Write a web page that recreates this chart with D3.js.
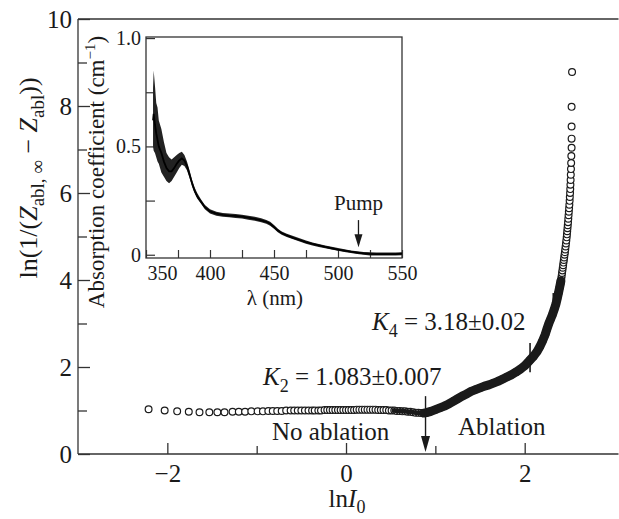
<!DOCTYPE html>
<html>
<head>
<meta charset="utf-8">
<script src="https://cdn.jsdelivr.net/npm/d3@7"></script>
<style>
  body { margin: 0; background: #fff; }
  svg, svg text { font-family: "Liberation Serif", "Times New Roman", serif; }
</style>
</head>
<body>
<svg id="chart" width="619" height="519"></svg>
<script>
// Main curve: ln I0 vs ln(1/(Zabl,inf - Zabl))
const lnI = [
  -2.21, -2.03, -1.89, -1.76, -1.64, -1.53, -1.44, -1.36, -1.27, -1.20, -1.13, -1.06, -0.99, -0.93,
  -0.87, -0.82, -0.77, -0.72, -0.67, -0.62, -0.58, -0.54, -0.50, -0.46, -0.42, -0.38, -0.35, -0.31,
  -0.28, -0.24, -0.21, -0.18, -0.15, -0.12, -0.09, -0.06, -0.03, 0.00, 0.03, 0.06, 0.09, 0.12,
  0.15, 0.18, 0.21, 0.24, 0.27, 0.30, 0.33, 0.36, 0.39, 0.42, 0.45, 0.48, 0.51, 0.54, 0.57, 0.60,
  0.63, 0.66, 0.69, 0.72, 0.75, 0.78, 0.81, 0.84, 0.87,
  0.90, 0.95, 1.00, 1.05, 1.10, 1.15, 1.20, 1.25, 1.30, 1.35, 1.40, 1.45, 1.50, 1.55, 1.60, 1.65,
  1.70, 1.75, 1.80, 1.85, 1.90, 1.95, 2.00, 2.03, 2.06, 2.10, 2.14, 2.17, 2.20, 2.23, 2.25, 2.27,
  2.29, 2.31, 2.33, 2.35, 2.365, 2.378, 2.39, 2.40, 2.405, 2.410, 2.414, 2.418, 2.422, 2.426, 2.430,
  2.434, 2.438, 2.442, 2.446, 2.450, 2.454, 2.458, 2.462, 2.466, 2.470, 2.473, 2.476, 2.479, 2.482,
  2.485, 2.488, 2.491, 2.494, 2.497, 2.500, 2.503, 2.505, 2.508, 2.510, 2.512, 2.514, 2.516, 2.518,
  2.520, 2.522, 2.525, 2.525, 2.525, 2.525, 2.530
];
const lnZ = [
  1.03, 1.00, 0.98, 0.97, 0.96, 0.96, 0.96, 0.96, 0.97, 0.97, 0.97, 0.98, 0.98, 0.98,
  0.99, 0.99, 0.99, 0.99, 1.00, 1.00, 1.00, 1.00, 1.00, 1.00, 1.00, 1.00, 1.00, 1.00,
  1.00, 1.01, 1.01, 1.01, 1.01, 1.01, 1.01, 1.01, 1.01, 1.01, 1.01, 1.01, 1.01, 1.02,
  1.02, 1.02, 1.02, 1.02, 1.02, 1.02, 1.02, 1.01, 1.01, 1.01, 1.01, 1.00, 1.00, 1.00, 0.99, 0.99,
  0.98, 0.98, 0.97, 0.97, 0.96, 0.95, 0.95, 0.94, 0.94,
  0.95, 0.98, 1.02, 1.06, 1.10, 1.15, 1.21, 1.27, 1.33, 1.38, 1.44, 1.48, 1.52, 1.56, 1.59, 1.63,
  1.67, 1.72, 1.77, 1.82, 1.88, 1.95, 2.03, 2.09, 2.16, 2.25, 2.36, 2.47, 2.60, 2.75, 2.88, 3.00,
  3.10, 3.20, 3.32, 3.45, 3.58, 3.70, 3.82, 3.92, 3.98, 4.04, 4.10, 4.16, 4.22, 4.28, 4.34,
  4.40, 4.46, 4.52, 4.58, 4.64, 4.70, 4.77, 4.84, 4.91, 4.98, 5.05, 5.12, 5.19, 5.26,
  5.33, 5.41, 5.49, 5.57, 5.65, 5.73, 5.82, 5.91, 6.00, 6.09, 6.19, 6.30, 6.42, 6.55,
  6.69, 6.85, 7.04, 7.25, 7.53, 7.98, 8.78
];

// Short vertical marks on the curve (fit range ends)
const markX = [2.06, 2.32];
const markLo = [1.88, 3.15];
const markHi = [2.55, 3.70];

// Ablation threshold arrow
const threshX = 0.89;
const threshTop = 1.33;

// Main axis ticks
const xMajor = [-2, 0, 2];
const xMinor = [-1, 1];
const yMajor = [0, 2, 4, 6, 8, 10];
const yMinor = [1, 3, 5, 7, 9];

// Inset: absorption spectrum (mean and noise envelope)
const lambda = [355.5, 356, 357, 358, 359, 360, 362, 364, 366, 368, 370, 372, 374, 376, 378, 380,
  382, 384, 386, 388, 390, 393, 396, 400, 405, 410, 415, 420, 425, 430, 435, 440, 444, 447, 450,
  453, 456, 460, 465, 470, 475, 480, 485, 490, 495, 500, 505, 510, 515, 520, 525, 530, 535, 540,
  545, 550];
const absMid = [0.62, 0.65, 0.60, 0.56, 0.53, 0.50, 0.47, 0.43, 0.40, 0.385, 0.385, 0.40, 0.42,
  0.435, 0.445, 0.435, 0.41, 0.37, 0.33, 0.295, 0.27, 0.245, 0.22, 0.20, 0.19, 0.184, 0.181, 0.179,
  0.176, 0.171, 0.166, 0.159, 0.152, 0.143, 0.128, 0.112, 0.10, 0.089, 0.078, 0.068, 0.058, 0.05,
  0.043, 0.036, 0.03, 0.024, 0.019, 0.014, 0.01, 0.006, 0.004, 0.003, 0.003, 0.003, 0.003, 0.005];
const absHi = [0.77, 0.85, 0.78, 0.70, 0.68, 0.62, 0.58, 0.52, 0.47, 0.45, 0.44, 0.45, 0.46,
  0.47, 0.475, 0.46, 0.43, 0.39, 0.345, 0.31, 0.285, 0.255, 0.23, 0.21, 0.198, 0.193, 0.19, 0.188,
  0.185, 0.18, 0.175, 0.168, 0.16, 0.152, 0.137, 0.12, 0.107, 0.097, 0.086, 0.076, 0.066, 0.057,
  0.05, 0.043, 0.037, 0.031, 0.025, 0.02, 0.016, 0.013, 0.011, 0.01, 0.01, 0.01, 0.01, 0.012];
const absLo = [0.50, 0.48, 0.47, 0.45, 0.43, 0.42, 0.38, 0.36, 0.34, 0.33, 0.34, 0.36, 0.38,
  0.40, 0.415, 0.41, 0.39, 0.355, 0.315, 0.285, 0.26, 0.235, 0.21, 0.19, 0.18, 0.175, 0.173, 0.17,
  0.167, 0.162, 0.157, 0.15, 0.143, 0.134, 0.12, 0.104, 0.092, 0.082, 0.071, 0.061, 0.051, 0.043,
  0.036, 0.03, 0.024, 0.018, 0.013, 0.008, 0.004, 0.0, -0.003, -0.004, -0.004, -0.004, -0.003, -0.002];
const pumpX = 516;
const insetXTicks = [350, 375, 400, 425, 450, 475, 500, 525, 550];
const insetXLabels = [350, 400, 450, 500, 550];
const insetYTicks = [0, 0.25, 0.5, 0.75, 1.0];
const insetYLabels = [0, 0.5, 1.0];

const svg = d3.select("#chart");
const ink = "#1a1a1a";

// Main scales
const x = d3.scaleLinear().domain([-3, 3.05]).range([78, 618.5]);
const y = d3.scaleLinear().domain([0, 10]).range([454, 19]);

// Frame: bottom, left, top
const frame = svg.append("g").attr("stroke", "#333").attr("stroke-width", 1.3);
frame.append("line").attr("x1", x(-3)).attr("x2", x(3.05)).attr("y1", y(0)).attr("y2", y(0));
frame.append("line").attr("x1", x(-3)).attr("x2", x(-3)).attr("y1", y(0)).attr("y2", y(10));
frame.append("line").attr("x1", x(-3)).attr("x2", x(3.05)).attr("y1", y(10)).attr("y2", y(10));

// Inside ticks
const fmt = d3.format("d");
svg.append("g").attr("class", "ax").attr("transform", `translate(0,${y(0)})`)
  .call(d3.axisBottom(x).tickValues(xMajor).tickFormat(fmt).tickSizeInner(-11).tickSizeOuter(0).tickPadding(10));
svg.append("g").attr("class", "ax").attr("transform", `translate(0,${y(0)})`)
  .call(d3.axisBottom(x).tickValues(xMinor).tickSizeInner(-8).tickSizeOuter(0).tickFormat(""));
svg.append("g").attr("class", "ax").attr("transform", `translate(${x(-3)},0)`)
  .call(d3.axisLeft(y).tickValues(yMajor).tickFormat(fmt).tickSizeInner(-12).tickSizeOuter(0).tickPadding(6));
svg.append("g").attr("class", "ax").attr("transform", `translate(${x(-3)},0)`)
  .call(d3.axisLeft(y).tickValues(yMinor).tickSizeInner(-9).tickSizeOuter(0).tickFormat(""));
svg.selectAll(".ax").attr("font-family", null).attr("font-size", 25);
svg.selectAll(".ax .domain").remove();
svg.selectAll(".ax .tick line").attr("stroke", "#333").attr("stroke-width", 1.3);
svg.selectAll(".ax .tick text").attr("fill", ink);

// Data points
const pts = lnI.map((v, i) => ({ x: v, y: lnZ[i] }));
svg.append("g").selectAll("circle").data(pts).join("circle")
  .attr("cx", d => x(d.x)).attr("cy", d => y(d.y)).attr("r", 3.4)
  .attr("fill", "#fff").attr("stroke", ink).attr("stroke-width", 1.2);

// Dense part of the data renders as solid band
const line = d3.line().x(d => x(d.x)).y(d => y(d.y));
svg.append("path").datum(pts.filter(d => d.x >= 0.5 && d.x <= 0.9))
  .attr("d", line).attr("fill", "none").attr("stroke", ink).attr("stroke-width", 4.5);
svg.append("path").datum(pts.filter(d => d.x >= 0.87 && d.y <= 4.0))
  .attr("d", line).attr("fill", "none").attr("stroke", ink).attr("stroke-width", 9)
  .attr("stroke-linecap", "round").attr("stroke-linejoin", "round");

// Fit marks
svg.append("g").selectAll("line").data(markX).join("line")
  .attr("x1", d => x(d)).attr("x2", d => x(d))
  .attr("y1", (d, i) => y(markLo[i])).attr("y2", (d, i) => y(markHi[i]))
  .attr("stroke", ink).attr("stroke-width", 1.6);

// Threshold arrow
svg.append("line").attr("x1", x(threshX)).attr("x2", x(threshX))
  .attr("y1", y(threshTop)).attr("y2", y(0) - 12)
  .attr("stroke", ink).attr("stroke-width", 1.4);
svg.append("path")
  .attr("d", `M${x(threshX) - 4.5},${y(0) - 18} L${x(threshX) + 4.5},${y(0) - 18} L${x(threshX)},${y(0) - 2} Z`)
  .attr("fill", ink);

// Annotations
const k2 = svg.append("text").attr("x", 263).attr("y", 385).attr("font-size", 25).attr("fill", ink);
k2.append("tspan").attr("font-style", "italic").text("K");
k2.append("tspan").attr("dy", 7).attr("font-size", 18).text("2");
k2.append("tspan").attr("dy", -7).text(" = 1.083\u00b10.007");

const k4 = svg.append("text").attr("x", 372).attr("y", 330).attr("font-size", 25).attr("fill", ink);
k4.append("tspan").attr("font-style", "italic").text("K");
k4.append("tspan").attr("dy", 7).attr("font-size", 18).text("4");
k4.append("tspan").attr("dy", -7).text(" = 3.18\u00b10.02");

svg.append("text").attr("x", 272).attr("y", 440).attr("font-size", 25).attr("fill", ink).text("No ablation");
svg.append("text").attr("x", 458).attr("y", 435).attr("font-size", 25).attr("fill", ink).text("Ablation");

// Axis titles
const xt = svg.append("text").attr("x", 347).attr("y", 507).attr("text-anchor", "middle")
  .attr("font-size", 25).attr("fill", ink);
xt.append("tspan").text("ln");
xt.append("tspan").attr("font-style", "italic").text("I");
xt.append("tspan").attr("dy", 6).attr("font-size", 18).text("0");

const yt = svg.append("text").attr("transform", "translate(37,178) rotate(-90)")
  .attr("text-anchor", "middle").attr("font-size", 26).attr("fill", ink);
yt.append("tspan").text("ln(1/(");
yt.append("tspan").attr("font-style", "italic").text("Z");
yt.append("tspan").attr("dy", 7).attr("font-size", 19).text("abl, \u221e");
yt.append("tspan").attr("dy", -7).text(" \u2212 ");
yt.append("tspan").attr("font-style", "italic").text("Z");
yt.append("tspan").attr("dy", 7).attr("font-size", 19).text("abl");
yt.append("tspan").attr("dy", -7).text("))");

// ---- Inset ----
const ix = d3.scaleLinear().domain([350, 550]).range([146, 402]);
const iy = d3.scaleLinear().domain([-0.015, 1.005]).range([258, 37]);

const inset = svg.append("g");
inset.append("rect").attr("x", 146).attr("y", 37).attr("width", 256).attr("height", 221)
  .attr("fill", "#fff").attr("stroke", "#333").attr("stroke-width", 1.3);

const ixAxis = inset.append("g").attr("class", "iax").attr("transform", `translate(0,258)`)
  .call(d3.axisBottom(ix).tickValues(insetXTicks).tickSizeInner(-8).tickSizeOuter(0).tickPadding(8)
    .tickFormat(d => insetXLabels.includes(d) ? d : ""));
ixAxis.selectAll(".tick text").filter(d => d === 350).attr("text-anchor", "start").attr("x", 1);
inset.append("g").attr("class", "iax").attr("transform", `translate(146,0)`)
  .call(d3.axisLeft(iy).tickValues(insetYTicks).tickSizeInner(-9).tickSizeOuter(0).tickPadding(5)
    .tickFormat(d => insetYLabels.includes(d) ? (d === 0 ? "0" : d3.format(".1f")(d)) : ""));
inset.selectAll(".iax").attr("font-family", null).attr("font-size", 20);
inset.selectAll(".iax .domain").remove();
inset.selectAll(".iax .tick line").attr("stroke", "#333").attr("stroke-width", 1.2);
inset.selectAll(".iax .tick text").attr("fill", ink);

const spec = lambda.map((l, i) => ({ l, m: absMid[i], hi: absHi[i], lo: absLo[i] }));
inset.append("path").datum(spec)
  .attr("d", d3.area().x(d => ix(d.l)).y0(d => iy(d.lo)).y1(d => iy(d.hi)))
  .attr("fill", "#222");
inset.append("path").datum(spec)
  .attr("d", d3.line().x(d => ix(d.l)).y(d => iy(d.m)))
  .attr("fill", "none").attr("stroke", "#000").attr("stroke-width", 1.8);

// Pump arrow
inset.append("line").attr("x1", ix(pumpX)).attr("x2", ix(pumpX)).attr("y1", iy(0.16)).attr("y2", iy(0.09))
  .attr("stroke", ink).attr("stroke-width", 1.3);
inset.append("path")
  .attr("d", `M${ix(pumpX) - 4},${iy(0.095)} L${ix(pumpX) + 4},${iy(0.095)} L${ix(pumpX)},${iy(0.035)} Z`)
  .attr("fill", ink);
inset.append("text").attr("x", ix(pumpX)).attr("y", 210).attr("text-anchor", "middle")
  .attr("font-size", 21).attr("fill", ink).text("Pump");

inset.append("text").attr("x", 275).attr("y", 305).attr("text-anchor", "middle")
  .attr("font-size", 21).attr("fill", ink).text("\u03bb  (nm)");

const it = svg.append("text").attr("transform", "translate(104,172) rotate(-90)")
  .attr("text-anchor", "middle").attr("font-size", 23).attr("fill", ink);
it.append("tspan").text("Absorption coefficient  (cm");
it.append("tspan").attr("dy", -9).attr("font-size", 15).text("\u22121");
it.append("tspan").attr("dy", 9).text(")");
</script>
</body>
</html>
